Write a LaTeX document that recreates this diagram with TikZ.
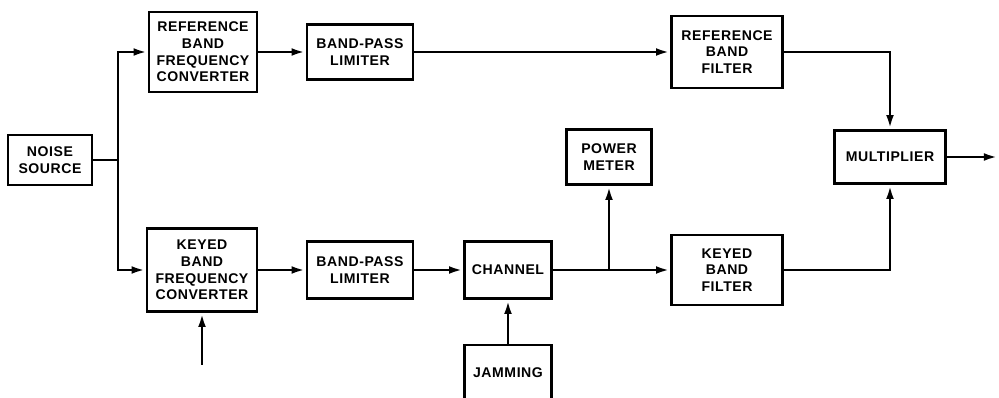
\documentclass[tikz,border=0pt]{standalone}
\usepackage{fontspec}
\setmainfont{Liberation Sans}[LetterSpace=4]
\usetikzlibrary{positioning, arrows.meta, calc}

\begin{document}
\begin{tikzpicture}[x=0.025cm, y=-0.025cm,
    >={Latex[length=10pt, width=5.5pt]}, % schmale gefuellte Pfeilspitzen
    font=\bfseries\fontsize{10}{11.8}\selectfont,
    line width=2pt,
    block/.style={draw, rectangle, align=center, inner sep=2pt, line width=2pt},
    wire/.style={line width=2pt}
]
\useasboundingbox (0,0) rectangle (999,398);
\clip (0,0) rectangle (999,398);

% 1. Bloecke
\node[block, minimum width=2.1cm, minimum height=1.25cm] (noise) at (50,160) {NOISE\\SOURCE};
\node[block, minimum width=2.7cm, minimum height=2.0cm] (refconv) at (203,52) {REFERENCE\\BAND\\FREQUENCY\\CONVERTER};
\node[block, minimum width=2.65cm, minimum height=1.375cm] (refbpl) at (360,52) {BAND-PASS\\LIMITER};
\node[block, minimum width=2.775cm, minimum height=1.8cm] (refflt) at (727,52) {REFERENCE\\BAND\\FILTER};
\node[block, minimum width=2.775cm, minimum height=1.325cm] (mult) at (890,157) {MULTIPLIER};
\node[block, minimum width=2.75cm, minimum height=2.075cm] (keyconv) at (202,270) {KEYED\\BAND\\FREQUENCY\\CONVERTER};
\node[block, minimum width=2.65cm, minimum height=1.425cm] (keybpl) at (360,270) {BAND-PASS\\LIMITER};
\node[block, minimum width=2.175cm, minimum height=1.425cm] (channel) at (508,270) {CHANNEL};
\node[block, minimum width=2.175cm, minimum height=1.4cm] (jam) at (508,373) {JAMMING};
\node[block, minimum width=2.125cm, minimum height=1.375cm] (power) at (609,157) {POWER\\METER};
\node[block, minimum width=2.775cm, minimum height=1.75cm] (keyflt) at (727,270) {KEYED\\BAND\\FILTER};

% 2. Verzweigung nach der Rauschquelle
\coordinate (split) at (118,160);
\draw[wire] (noise) -- (split);
\draw[wire, ->] (split) |- (refconv);
\draw[wire, ->] (split) |- (keyconv);

% 3. Referenzzweig
\draw[wire, ->] (refconv) -- (refbpl);
\draw[wire, ->] (refbpl) -- (refflt);
\draw[wire, ->] (refflt) -| (mult);

% 4. Getasteter Zweig
\coordinate (keyin) at (202,365);
\draw[wire, ->] (keyin) -- (keyconv);
\draw[wire, ->] (keyconv) -- (keybpl);
\draw[wire, ->] (keybpl) -- (channel);
\draw[wire, ->] (jam) -- (channel);
\coordinate (tap) at (power |- channel);
\draw[wire] (channel) -- (tap);
\draw[wire, ->] (tap) -- (power);
\draw[wire, ->] (tap) -- (keyflt);
\draw[wire, ->] (keyflt) -| (mult);

% 5. Ausgang
\coordinate (out) at (998,157);
\draw[wire, ->] (mult) -- (out);

\end{tikzpicture}
\end{document}
